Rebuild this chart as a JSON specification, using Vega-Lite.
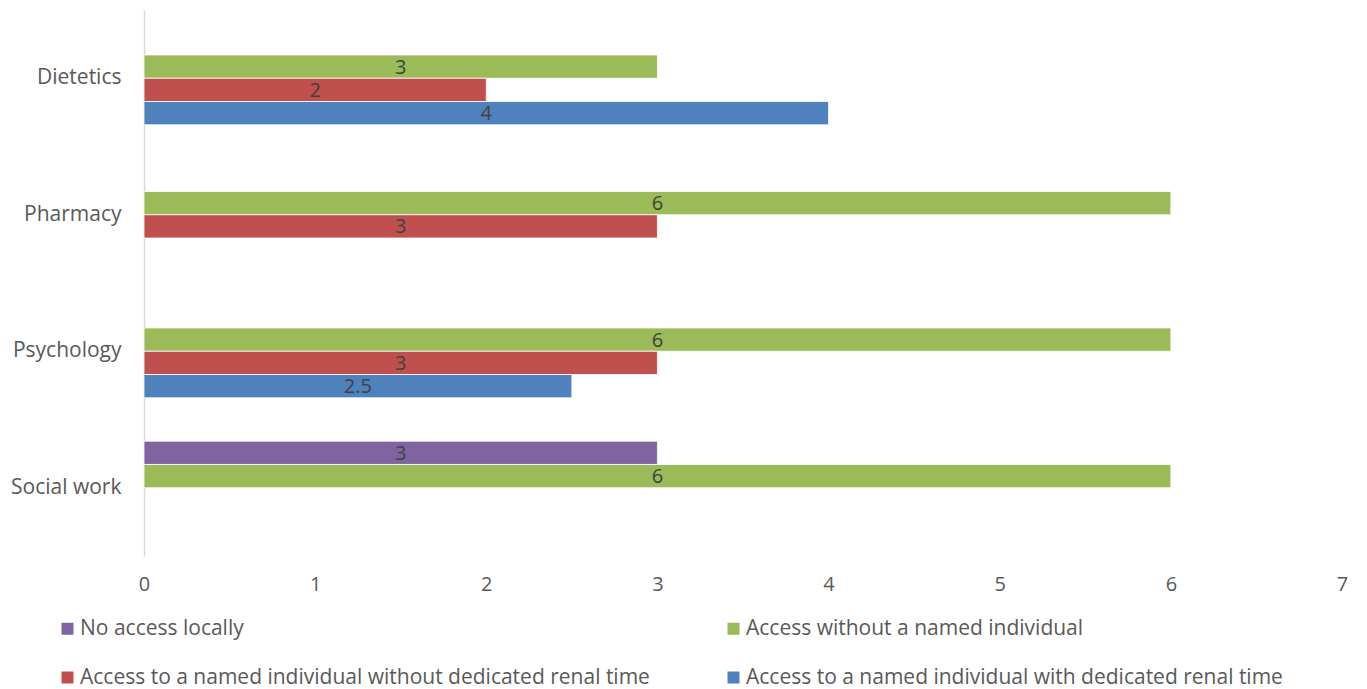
{
  "$schema": "https://vega.github.io/schema/vega-lite/v6.json",
  "width": 1198,
  "height": 546,
  "autosize": {"type": "none"},
  "padding": {"left": 144, "top": 10, "right": 25, "bottom": 133},
  "background": "white",
  "config": {
    "view": {"stroke": null},
    "font": "Open Sans"
  },
  "data": {
    "values": [
      {"discipline": "Dietetics", "access": "Access without a named individual", "value": 3},
      {"discipline": "Dietetics", "access": "Access to a named individual without dedicated renal time", "value": 2},
      {"discipline": "Dietetics", "access": "Access to a named individual with dedicated renal time", "value": 4},
      {"discipline": "Pharmacy", "access": "Access without a named individual", "value": 6},
      {"discipline": "Pharmacy", "access": "Access to a named individual without dedicated renal time", "value": 3},
      {"discipline": "Psychology", "access": "Access without a named individual", "value": 6},
      {"discipline": "Psychology", "access": "Access to a named individual without dedicated renal time", "value": 3},
      {"discipline": "Psychology", "access": "Access to a named individual with dedicated renal time", "value": 2.5},
      {"discipline": "Social work", "access": "No access locally", "value": 3},
      {"discipline": "Social work", "access": "Access without a named individual", "value": 6}
    ]
  },
  "encoding": {
    "y": {
      "field": "discipline",
      "type": "nominal",
      "sort": ["Dietetics", "Pharmacy", "Psychology", "Social work"],
      "scale": {"paddingInner": 0.318, "paddingOuter": 0.159},
      "axis": {
        "title": null,
        "ticks": false,
        "domainColor": "#d9d9d9",
        "domainWidth": 1.5,
        "labelFontSize": 21,
        "labelColor": "#595959",
        "labelPadding": 23
      }
    },
    "yOffset": {
      "field": "access",
      "type": "nominal",
      "sort": ["No access locally", "Access without a named individual", "Access to a named individual without dedicated renal time", "Access to a named individual with dedicated renal time"],
      "scale": {"domain": ["No access locally", "Access without a named individual", "Access to a named individual without dedicated renal time", "Access to a named individual with dedicated renal time"], "paddingInner": 0, "paddingOuter": 0}
    }
  },
  "layer": [
    {
      "mark": {"type": "bar", "stroke": "white", "strokeWidth": 0.8},
      "encoding": {
        "x": {
          "field": "value",
          "type": "quantitative",
          "scale": {"domain": [0, 7], "nice": false},
          "axis": {
            "title": null,
            "grid": false,
            "domain": false,
            "ticks": false,
            "values": [0, 1, 2, 3, 4, 5, 6, 7],
            "labelFontSize": 20,
            "labelColor": "#595959",
            "labelPadding": 18,
            "labelBound": false,
            "labelFlush": false,
            "labelOverlap": false
          }
        },
        "color": {
          "field": "access",
          "type": "nominal",
          "scale": {
            "domain": ["No access locally", "Access without a named individual", "Access to a named individual without dedicated renal time", "Access to a named individual with dedicated renal time"],
            "range": ["#8064a2", "#9bbb59", "#c0504d", "#4f81bd"]
          },
          "legend": {
            "title": null,
            "orient": "none",
            "legendX": -87,
            "legendY": 608,
            "direction": "horizontal",
            "columns": 2,
            "columnPadding": 73,
            "rowPadding": 27,
            "padding": 0,
            "symbolType": "square",
            "symbolSize": 144,
            "symbolStrokeWidth": 0,
            "labelFontSize": 21,
            "labelColor": "#595959",
            "labelOffset": 2,
            "labelLimit": 800
          }
        }
      }
    },
    {
      "mark": {"type": "text", "fontSize": 20, "color": "#404040", "baseline": "middle", "align": "center", "dy": 1},
      "encoding": {
        "x": {
          "field": "value",
          "type": "quantitative",
          "scale": {"domain": [0, 14], "nice": false},
          "axis": null
        },
        "text": {"field": "value", "type": "quantitative"}
      }
    }
  ],
  "resolve": {"scale": {"x": "independent"}}
}
